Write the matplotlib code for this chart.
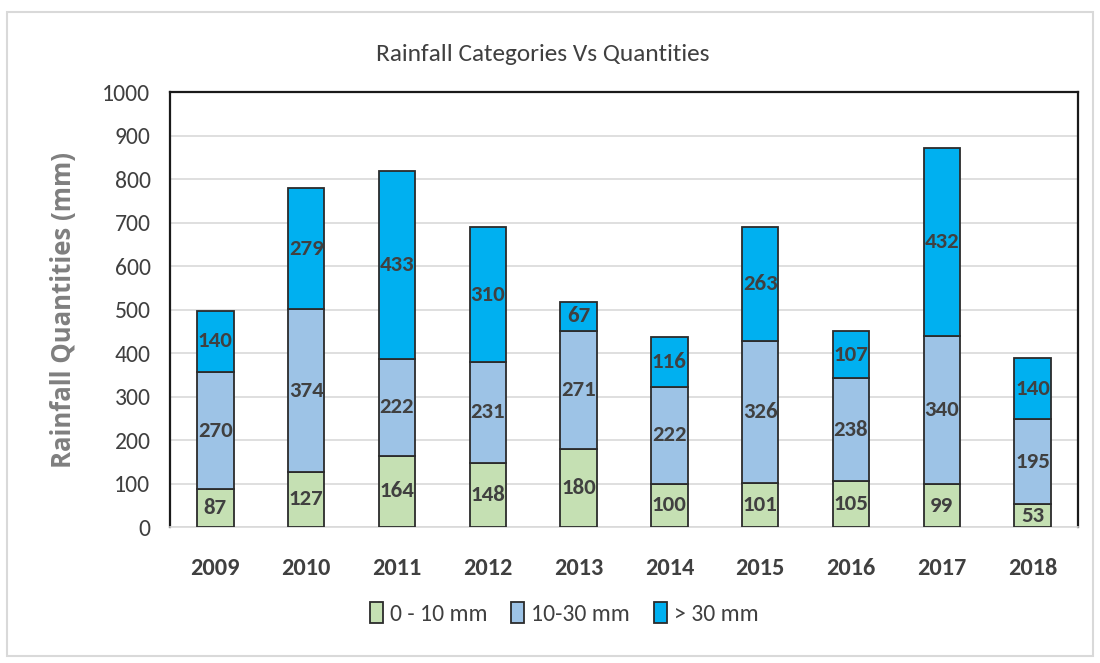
import matplotlib
matplotlib.use("Agg")
import matplotlib.pyplot as plt
import numpy as np
from matplotlib.patches import Rectangle
from matplotlib import font_manager

years = ["2009", "2010", "2011", "2012", "2013", "2014", "2015", "2016", "2017", "2018"]
low = [87, 127, 164, 148, 180, 100, 101, 105, 99, 53]
mid = [270, 374, 222, 231, 271, 222, 326, 238, 340, 195]
high = [140, 279, 433, 310, 67, 116, 263, 107, 432, 140]
series_names = ["0 - 10 mm", "10-30 mm", "> 30 mm"]
colors = ["#C5E0B3", "#9DC3E6", "#00B0F0"]

names = {f.name for f in font_manager.fontManager.ttflist}
narrow = "DejaVu Sans"
for cand in ["Carlito", "Open Sans Condensed", "Asap Condensed", "Roboto Condensed",
             "Archivo Narrow", "Barlow Semi Condensed"]:
    if cand in names:
        narrow = cand
        break
wide = "Open Sans" if "Open Sans" in names else "DejaVu Sans"

fig = plt.figure(figsize=(11, 6.63), dpi=100)
fig.patches.append(Rectangle((0.006, 0.01), 0.988, 0.972, transform=fig.transFigure,
                             fill=False, edgecolor="#d9d9d9", linewidth=1.5))
ax = fig.add_axes([0.1545, 0.205, 0.8255, 0.656])

x = np.arange(len(years))
w = 0.40
bottoms = np.zeros(len(years))
for vals, c, nm in zip([low, mid, high], colors, series_names):
    ax.bar(x, vals, w, bottom=bottoms, color=c, edgecolor="#2b2b2b",
           linewidth=1.3, label=nm, zorder=3)
    for xi, b, v in zip(x, bottoms, vals):
        ax.text(xi, b + v / 2, str(v), ha="center", va="center", fontsize=16.5,
                fontweight="bold", color="#404040", family=narrow, zorder=4)
    bottoms = bottoms + np.array(vals)

ax.set_xlim(-0.5, len(years) - 0.5)
ax.set_ylim(0, 1000)
ax.set_yticks(np.arange(0, 1001, 100))
ax.set_xticks(x)
ax.set_xticklabels(years)
ax.grid(axis="y", color="#d9d9d9", linewidth=1.2, zorder=0)
for sp in ["top", "right", "left"]:
    ax.spines[sp].set_color("#1a1a1a")
    ax.spines[sp].set_linewidth(1.6)
ax.spines["bottom"].set_color("#d9d9d9")
ax.spines["bottom"].set_linewidth(1.2)
ax.tick_params(axis="both", length=0, colors="#404040")
ax.tick_params(axis="x", pad=22, labelsize=17.5)
ax.tick_params(axis="y", pad=14, labelsize=17)
for lab in ax.get_xticklabels() + ax.get_yticklabels():
    lab.set_family(narrow)
for lab in ax.get_xticklabels():
    lab.set_fontweight("bold")

ax.set_ylabel("Rainfall Quantities (mm)", fontsize=18.5, fontweight="bold",
              color="#7f7f7f", labelpad=18, family=wide)
fig.text(0.493, 0.918, "Rainfall Categories Vs Quantities", ha="center", va="center",
         fontsize=18.3, color="#404040", family=narrow)

leg = fig.legend(loc="center", bbox_to_anchor=(0.513, 0.075), ncol=3, frameon=False,
                 handlelength=0.55, handleheight=1.0, handletextpad=0.3,
                 columnspacing=1.0, prop={"family": narrow, "size": 17})
for t in leg.get_texts():
    t.set_color("#404040")

fig.savefig("out.png", dpi=100)
